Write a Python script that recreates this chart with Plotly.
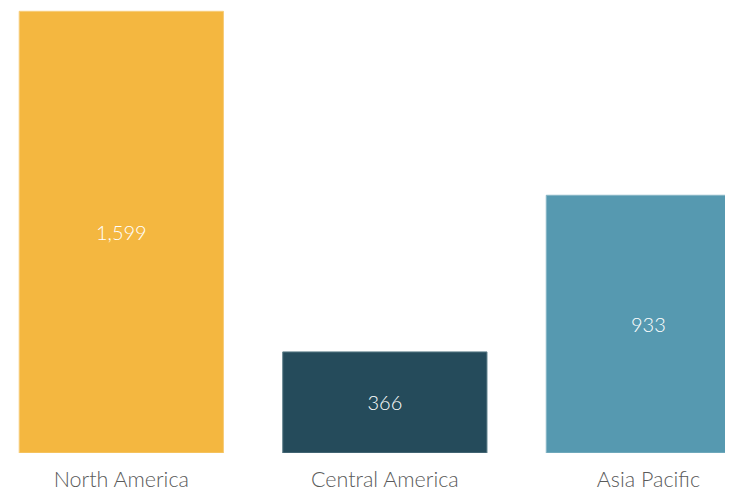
import plotly.graph_objects as go

regions = ["North America", "Central America", "Asia Pacific"]
values = [1599, 366, 933]
colors = ["#F4B740", "#254B5B", "#5699B0"]
edge_colors = ["#F7CD7A", "#5F7F8B", "#86B6C6"]

fig = go.Figure(
    go.Bar(
        x=regions,
        y=values,
        marker=dict(color=colors, line=dict(color=edge_colors, width=1)),
        text=[f"{v:,}" for v in values],
        textposition="inside",
        insidetextanchor="middle",
        textfont=dict(family="Lato", size=20, color="#FFFFFF", weight=300),
        hoverinfo="skip",
    )
)

fig.update_layout(
    width=745,
    height=487,
    margin=dict(l=0, r=0, t=0, b=42),
    paper_bgcolor="#FFFFFF",
    plot_bgcolor="#FFFFFF",
    bargap=0.225,
    showlegend=False,
    font=dict(family="Lato", color="#5A5A5A"),
)
fig.update_xaxes(
    range=[-0.430, 2.397],
    showgrid=False,
    zeroline=False,
    showline=False,
    ticks="",
    tickfont=dict(family="Lato", size=21.5, color="#5A5A5A", weight=300),
    ticklabelstandoff=11,
)
fig.update_yaxes(
    range=[0, 1611],
    visible=False,
    showgrid=False,
    zeroline=False,
)

fig.write_html("out.html", config={"displayModeBar": False})
